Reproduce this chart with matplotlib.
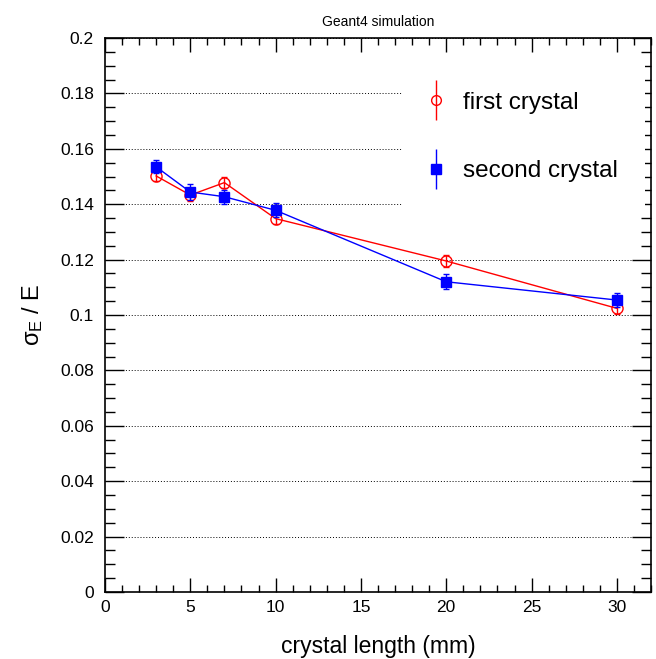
import matplotlib
matplotlib.use("Agg")
import matplotlib.pyplot as plt
import numpy as np
from matplotlib.ticker import MultipleLocator
from matplotlib.legend_handler import HandlerErrorbar

plt.rcParams['font.family'] = ['Liberation Sans', 'DejaVu Sans']
plt.rcParams['mathtext.fontset'] = 'custom'
plt.rcParams['mathtext.rm'] = 'Liberation Sans'
plt.rcParams['mathtext.it'] = 'Liberation Sans'

# crystal length (mm)
length = [3, 5, 7, 10, 20, 30]

# energy resolution sigma_E / E
first_res = [0.1502, 0.1433, 0.1478, 0.1348, 0.1195, 0.1024]
first_err = [0.0020, 0.0020, 0.0020, 0.0020, 0.0020, 0.0020]
second_res = [0.1535, 0.1444, 0.1427, 0.1378, 0.1120, 0.1054]
second_err = [0.0024, 0.0030, 0.0025, 0.0025, 0.0027, 0.0024]

ytick_labels = ['0', '0.02', '0.04', '0.06', '0.08', '0.1', '0.12', '0.14',
                '0.16', '0.18', '0.2']

fig = plt.figure(figsize=(6.56, 6.59), dpi=100)
ax = fig.add_axes([0.160, 0.1017, 0.8324, 0.8406])

# data with error bars
ax.errorbar(length, first_res, yerr=first_err, color='#ff0000', marker='o',
            mfc='none', mec='#ff0000', ms=8, lw=1, capsize=2, elinewidth=1, zorder=3)
ax.errorbar(length, second_res, yerr=second_err, color='#0000ff', marker='s',
            mfc='#0000ff', mec='#0000ff', ms=7, lw=1, capsize=2, elinewidth=1, zorder=4)

# legend proxies (marker + vertical bar, like ROOT "pe")
h1 = ax.errorbar([np.nan], [np.nan], yerr=[1], color='#ff0000', marker='o', mfc='none',
                 ms=7, ls='none', elinewidth=1, capsize=0)
h2 = ax.errorbar([np.nan], [np.nan], yerr=[1], color='#0000ff', marker='s',
                 ms=7, ls='none', elinewidth=1, capsize=0)

ax.set_xlim(0, 32)
ax.set_ylim(0, 0.2)
ax.xaxis.set_major_locator(MultipleLocator(5))
ax.xaxis.set_minor_locator(MultipleLocator(1))
ax.yaxis.set_minor_locator(MultipleLocator(0.005))
ax.set_yticks(np.arange(0, 0.2001, 0.02))
ax.set_yticklabels(ytick_labels)

ax.yaxis.grid(True, which='major', color='black', linestyle=(0, (1, 2)), linewidth=0.7)

ax.tick_params(axis='both', which='both', direction='in', top=True, right=True,
               labelsize=12.5, width=1)
ax.tick_params(axis='y', which='major', length=14, pad=8)
ax.tick_params(axis='y', which='minor', length=7)
ax.tick_params(axis='x', which='major', length=10, pad=6)
ax.tick_params(axis='x', which='minor', length=5)
for s in ax.spines.values():
    s.set_linewidth(1.2)

ax.set_xlabel('crystal length (mm)', fontsize=16.5, labelpad=14.5)
ax.set_ylabel(r'$\sigma_{\mathrm{E}}$ / E', fontsize=17, labelpad=11)
ax.set_title('Geant4 simulation', fontsize=10, pad=9)

leg = ax.legend([h1, h2], ['first crystal', 'second crystal'], loc='upper left',
                bbox_to_anchor=(0.546, 0.951), fontsize=17.5, frameon=True,
                fancybox=False, edgecolor='none', facecolor='white', framealpha=1,
                handlelength=0.5, handletextpad=0.87, labelspacing=1.9,
                borderpad=1.1, borderaxespad=0,
                handler_map={type(h1): HandlerErrorbar(yerr_size=0.82)})
leg.set_zorder(5)

fig.savefig('out.png', dpi=100)
